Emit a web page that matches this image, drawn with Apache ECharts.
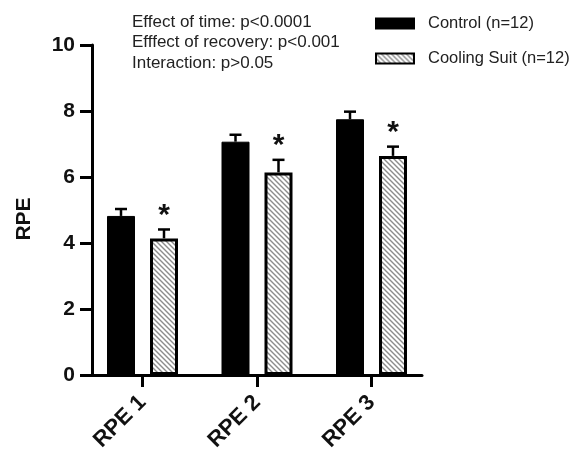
<!DOCTYPE html>
<html>
<head>
<meta charset="utf-8">
<script src="https://cdn.jsdelivr.net/npm/echarts@6/dist/echarts.min.js"></script>
<style>html,body{margin:0;padding:0;background:#fff}#c{width:584px;height:452px}</style>
</head>
<body>
<div id="c"></div>
<script>
var categories = ['RPE 1', 'RPE 2', 'RPE 3'];
var controlMean = [4.82, 7.07, 7.75];
var controlSem = [0.21, 0.21, 0.23];
var coolingMean = [4.14, 6.14, 6.64];
var coolingSem = [0.27, 0.38, 0.28];
var significant = [true, true, true];
var yTicks = [0, 2, 4, 6, 8, 10];
var seriesNames = ['Control (n=12)', 'Cooling Suit (n=12)'];
var statsText = ['Effect of time: p<0.0001', 'Efffect of recovery: p<0.001', 'Interaction: p>0.05'];

var BAR_W = 28, GAP_PX = 15;
var HALF = (BAR_W + GAP_PX) / 2;

function hatch() {
  var s = 5, c = document.createElement('canvas');
  c.width = s; c.height = s;
  var g = c.getContext('2d');
  g.fillStyle = '#fff'; g.fillRect(0, 0, s, s);
  g.strokeStyle = '#8c8c8c'; g.lineWidth = 1.4;
  g.beginPath();
  g.moveTo(-1, -1); g.lineTo(s + 1, s + 1);
  g.moveTo(-1, s - 1); g.lineTo(1, s + 1);
  g.moveTo(s - 1, -1); g.lineTo(s + 1, 1);
  g.stroke();
  return c;
}
var pattern = { image: hatch(), repeat: 'repeat' };

function errRender(means, sems, dir, star) {
  return function (params, api) {
    var i = api.value(0);
    var base = api.coord([i, means[i]]);
    var top = api.coord([i, means[i] + sems[i]]);
    var x = base[0] + dir * HALF;
    var cap = 6;
    var children = [
      { type: 'line', shape: { x1: x, y1: base[1], x2: x, y2: top[1] }, style: { stroke: '#000', lineWidth: 2.5 } },
      { type: 'line', shape: { x1: x - cap, y1: top[1], x2: x + cap, y2: top[1] }, style: { stroke: '#000', lineWidth: 2.5 } }
    ];
    if (star && significant[i]) {
      children.push({ type: 'text', style: { text: '*', x: x, y: top[1] + 1, align: 'center', verticalAlign: 'bottom', font: 'bold 30px "Liberation Sans", Arial, sans-serif', fill: '#111' } });
    }
    return { type: 'group', children: children };
  };
}

var chart = echarts.init(document.getElementById('c'), null, { renderer: 'canvas' });
var F = '"Liberation Sans", Arial, Helvetica, sans-serif';
chart.setOption({
  animation: false,
  backgroundColor: '#fff',
  title: {
    text: statsText.join('\n'), left: 127, top: 7,
    textStyle: { fontFamily: F, fontSize: 17, fontWeight: 'normal', color: '#222', lineHeight: 20.5 }
  },
  legend: {
    orient: 'vertical', left: 370, top: 10, itemWidth: 38, itemHeight: 10, itemGap: 18,
    textStyle: { fontFamily: F, fontSize: 16.5, color: '#222', padding: [0, 0, 0, 9] },
    data: [
      { name: seriesNames[0], icon: 'rect' },
      { name: seriesNames[1], icon: 'rect', itemStyle: { borderWidth: 2, borderColor: '#000' } }
    ]
  },
  grid: [
    { left: 85.25, width: 343.5, top: 45, bottom: 77, containLabel: false, outerBoundsMode: 'none' },
    { left: 92, width: 330, top: 45, bottom: 77, containLabel: false, outerBoundsMode: 'none' }
  ],
  xAxis: [
    {
      type: 'category', gridIndex: 0, data: categories, boundaryGap: true,
      axisLine: { show: false },
      axisTick: { show: true, alignWithLabel: true, length: 12, lineStyle: { color: '#000', width: 3 } },
      axisLabel: { rotate: 45, margin: 24, fontFamily: F, fontSize: 22, fontWeight: 'bold', color: '#111' }
    },
    {
      type: 'category', gridIndex: 1, data: categories,
      axisLine: { show: true, lineStyle: { color: '#000', width: 3 } },
      axisTick: { show: false }, axisLabel: { show: false }
    }
  ],
  yAxis: [
    { type: 'value', gridIndex: 0, min: 0, max: 10, interval: 2, show: false },
    {
      type: 'value', gridIndex: 1, min: yTicks[0], max: yTicks[yTicks.length - 1], interval: 2,
      name: 'RPE', nameLocation: 'middle', nameRotate: 90, nameGap: 57,
      nameTextStyle: { fontFamily: F, fontSize: 21, fontWeight: 'bold', color: '#111', padding: [0, 18, 0, 0] },
      axisLine: { show: true, lineStyle: { color: '#000', width: 3 } },
      axisTick: { show: true, length: 12, lineStyle: { color: '#000', width: 3 } },
      axisLabel: { margin: 17, fontFamily: F, fontSize: 21, fontWeight: 'bold', color: '#111' },
      splitLine: { show: false }
    }
  ],
  series: [
    {
      name: seriesNames[0], type: 'bar', xAxisIndex: 0, yAxisIndex: 0, data: controlMean,
      barWidth: BAR_W, barGap: (GAP_PX / BAR_W * 100) + '%',
      itemStyle: { color: '#000', borderColor: '#000', borderWidth: 1 }
    },
    {
      name: seriesNames[1], type: 'bar', xAxisIndex: 0, yAxisIndex: 0, data: coolingMean,
      barWidth: BAR_W,
      itemStyle: { color: pattern, borderColor: '#000', borderWidth: 3 }
    },
    {
      type: 'custom', xAxisIndex: 0, yAxisIndex: 0, z: 3,
      data: controlMean.map(function (v, i) { return [i, v]; }),
      renderItem: errRender(controlMean, controlSem, -1, false)
    },
    {
      type: 'custom', xAxisIndex: 0, yAxisIndex: 0, z: 3,
      data: coolingMean.map(function (v, i) { return [i, v]; }),
      renderItem: errRender(coolingMean, coolingSem, 1, true)
    }
  ]
});
</script>
</body>
</html>
